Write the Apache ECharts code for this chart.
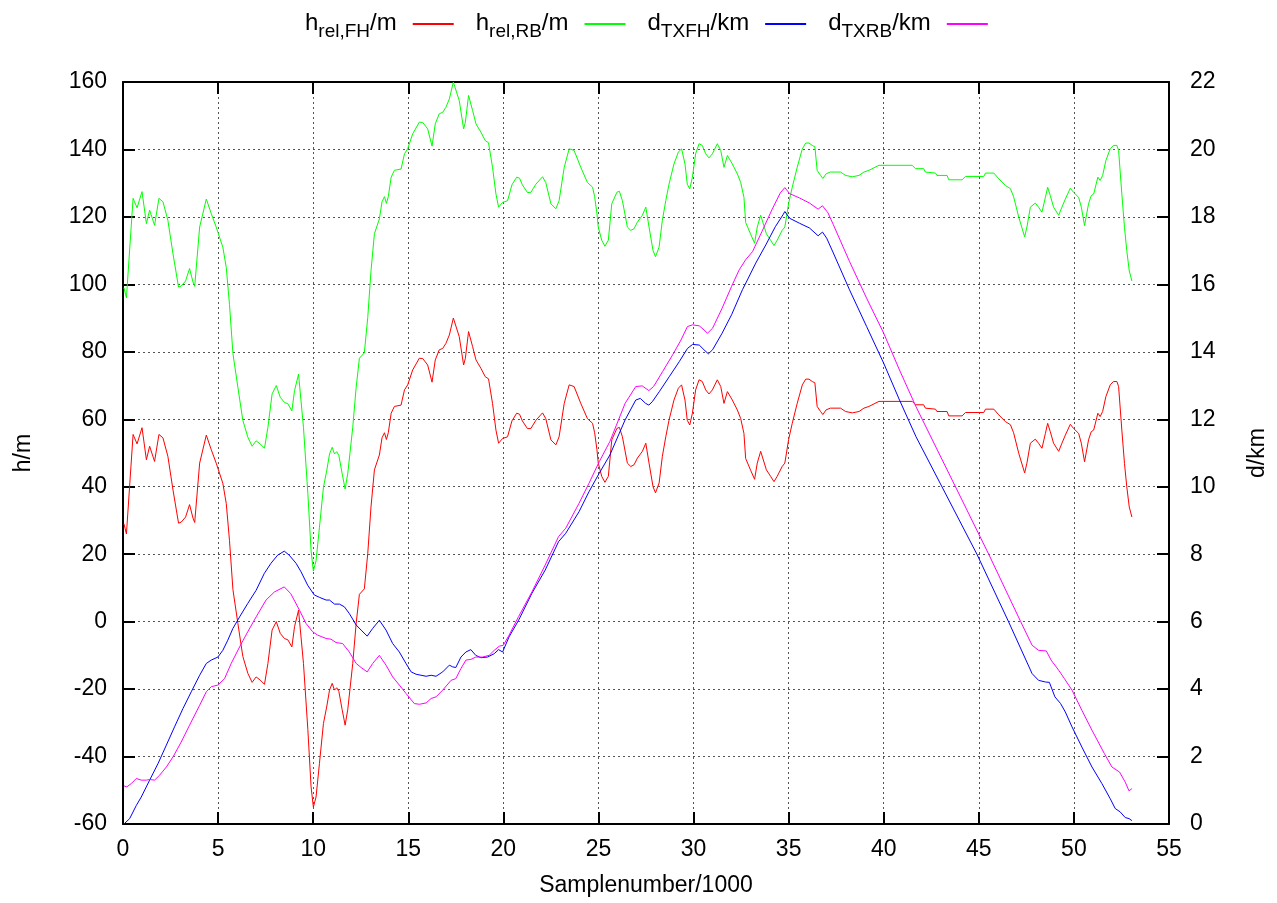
<!DOCTYPE html>
<html>
<head>
<meta charset="utf-8">
<script src="https://cdn.jsdelivr.net/npm/echarts@6/dist/echarts.min.js"></script>
<style>
  html, body { margin: 0; padding: 0; background: #fff; }
  #chart { width: 1277px; height: 903px; }
</style>
</head>
<body>
<div id="chart"></div>
<script>
// Sample positions (in thousands) shared by both relative-height curves
const hX = [
  0.05,0.18,0.53,0.62,0.74,0.84,1.0,1.1,1.23,1.4,
  1.49,1.66,1.89,2.1,2.36,2.63,2.92,3.06,3.29,3.5,
  3.68,3.77,4.03,4.38,4.64,4.9,5.25,5.43,5.6,5.78,
  6.04,6.3,6.57,6.79,7.0,7.21,7.44,7.62,7.84,8.06,
  8.27,8.49,8.67,8.88,9.02,9.23,9.31,9.49,9.72,9.89,
  10.01,10.15,10.33,10.54,10.71,10.86,11.0,11.12,11.24,11.35,
  11.52,11.68,11.82,12.08,12.26,12.43,12.69,12.87,13.04,13.22,
  13.48,13.62,13.75,13.85,13.95,14.1,14.27,14.62,14.8,14.97,
  15.23,15.58,15.76,16.02,16.11,16.25,16.42,16.63,16.81,16.98,
  17.16,17.37,17.47,17.68,17.91,18.0,18.17,18.38,18.56,18.82,
  19.05,19.22,19.43,19.61,19.75,19.96,20.22,20.45,20.7,20.85,
  21.0,21.27,21.45,21.71,22.06,22.23,22.5,22.76,22.93,23.2,
  23.46,23.72,24.07,24.42,24.69,24.8,24.92,24.99,25.17,25.34,
  25.52,25.7,25.97,26.1,26.26,26.52,26.7,26.87,27.05,27.31,
  27.49,27.66,27.87,28.0,28.19,28.36,28.54,28.71,28.97,29.2,
  29.37,29.55,29.67,29.8,29.94,30.11,30.29,30.46,30.64,30.81,
  30.99,31.25,31.43,31.6,31.78,32.04,32.3,32.48,32.65,32.74,
  33.0,33.21,33.35,33.53,33.61,33.83,34.05,34.23,34.4,34.66,
  34.8,35.0,35.19,35.45,35.72,35.9,36.07,36.24,36.38,36.5,
  36.68,36.8,36.97,37.2,37.73,37.99,38.35,38.7,38.96,39.22,
  39.75,41.5,41.67,42.1,42.19,42.72,42.8,43.33,43.42,44.12,
  44.3,45.26,45.35,45.79,46.05,46.4,46.66,46.83,47.1,47.41,
  47.53,47.71,47.97,48.14,48.32,48.5,48.62,48.76,48.93,49.2,
  49.37,49.55,49.81,49.98,50.25,50.39,50.56,50.77,50.91,51.04,
  51.26,51.38,51.51,51.68,51.91,52.08,52.26,52.35,52.52,52.66,
  52.78,52.91,53.05
];

// h_rel,FH in metres
const hFH = [
  29,26,55.5,56,52.7,53,57.5,58,48,52,
  52,47.5,55.5,54.5,49,39,29.2,29.5,31,34.7,
  30.7,29.4,47,55.3,51,47,41,35,24,9.5,
  -0.5,-10.3,-15.4,-18,-16.4,-17.3,-18.6,-12.4,-2.5,0,
  -3.5,-5,-5.4,-7.5,-1.5,3.4,3,-12.4,-32,-49,
  -55,-52,-42,-30.2,-25.3,-20.3,-18.3,-20.3,-19.6,-20.7,
  -26,-30.7,-26,-12.4,-0.5,8.1,9.7,20.2,34,45,
  49.4,54.5,56,54,56,61.8,63.8,64.2,68.7,70.2,
  74.6,78.1,78,76.1,75.6,71,77.6,80.6,81,82.5,
  85,90,90,84.5,76.1,78,86,81.6,77.6,75.1,
  72.6,72,64.7,56.8,52.9,54.3,54.8,59.5,61.8,61.5,
  59.5,57.2,57.3,59.7,61.9,60.2,53.9,52.4,54.8,64.7,
  70.2,69.7,64.7,60.2,58.8,56,51,47,43.1,41.3,
  43.1,53.9,57.3,57.6,54.8,47,46,46.5,48.5,50.5,
  52.9,47,40,38.2,41.1,49,54.8,59.7,65.7,69.2,
  70.2,65.7,59.7,58.3,61.8,68.7,71.7,71.2,68.7,67.5,
  68.7,71.7,69.7,64.7,68.2,65.7,62.8,60.2,55.8,48.4,
  44.9,42.2,47,50.5,50,45,43.1,41.5,43.1,46,
  47,54,58.8,64.7,70.2,71.9,71.9,71.2,70.8,63.8,
  62.3,61.4,62.8,63.3,63.3,62.3,61.9,62.3,63.3,63.8,
  65.3,65.3,64.3,64.3,63.3,63,62.3,62.3,61,61,
  62,62,63,63,61.3,59.3,58.4,56,49.9,44.1,
  47,52.9,54.1,52.9,51.4,55.8,58.8,56.3,52.9,50.5,
  52.9,55.3,58.5,57.3,55.8,52.9,47.4,53.9,56.3,56.8,
  61.8,60.8,62.3,66.7,70.2,71.2,71.2,69.7,56.8,46.9,
  40,34,31
];

// h_rel,RB in metres
const hRB = [
  99,96,125.5,126,122.7,123,127.5,128,118,122,
  122,117.5,125.5,124.5,119,109,99.2,99.5,101,104.7,
  100.7,99.4,117,125.3,121,117,111,105,94,79.5,
  69.5,59.7,54.6,52,53.6,52.7,51.4,57.6,67.5,70,
  66.5,65,64.6,62.5,68.5,73.4,73,57.6,38,21,
  15,18,28,39.8,44.7,49.7,51.7,49.7,50.4,49.3,
  44,39.3,44,57.6,69.5,78.1,79.7,90.2,104,115,
  119.4,124.5,126,124,126,131.8,133.8,134.2,138.7,140.2,
  144.6,148.1,148,146.1,145.6,141,147.6,150.6,151,152.5,
  155,160,160,154.5,146.1,148,156,151.6,147.6,145.1,
  142.6,142,134.7,126.8,122.9,124.3,124.8,129.5,131.8,131.5,
  129.5,127.2,127.3,129.7,131.9,130.2,123.9,122.4,124.8,134.7,
  140.2,139.7,134.7,130.2,128.8,126,121,117,113.1,111.3,
  113.1,123.9,127.3,127.6,124.8,117,116,116.5,118.5,120.5,
  122.9,117,110,108.2,111.1,119,124.8,129.7,135.7,139.2,
  140.2,135.7,129.7,128.3,131.8,138.7,141.7,141.2,138.7,137.5,
  138.7,141.7,139.7,134.7,138.2,135.7,132.8,130.2,125.8,118.4,
  114.9,112.2,117,120.5,120,115,113.1,111.5,113.1,116,
  117,124,128.8,134.7,140.2,141.9,141.9,141.2,140.8,133.8,
  132.3,131.4,132.8,133.3,133.3,132.3,131.9,132.3,133.3,133.8,
  135.3,135.3,134.3,134.3,133.3,133,132.3,132.3,131,131,
  132,132,133,133,131.3,129.3,128.4,126,119.9,114.1,
  117,122.9,124.1,122.9,121.4,125.8,128.8,126.3,122.9,120.5,
  122.9,125.3,128.5,127.3,125.8,122.9,117.4,123.9,126.3,126.8,
  131.8,130.8,132.3,136.7,140.2,141.2,141.2,139.7,126.8,116.9,
  110,104,101
];

// d_TXFH in km
const dFHX = [
  0.05,0.35,0.7,0.96,1.4,1.84,2.28,2.71,3.15,3.59,
  4.03,4.38,4.64,4.99,5.25,5.51,5.78,6.13,6.56,7.0,
  7.43,7.78,8.13,8.48,8.74,9.1,9.36,9.71,10.06,10.33,
  10.68,10.86,11.12,11.38,11.64,11.9,12.26,12.52,12.84,13.13,
  13.48,13.83,14.18,14.53,14.88,15.15,15.41,15.94,16.2,16.46,
  16.81,17.16,17.33,17.5,17.77,18.03,18.29,18.55,18.82,19.17,
  19.52,19.75,19.96,20.3,20.8,21.5,22.2,22.9,23.28,23.98,
  24.5,25.04,25.6,26.4,26.96,27.2,27.48,27.65,27.83,28.2,
  28.72,29.25,29.68,29.95,30.3,30.55,30.78,31.0,31.5,32.0,
  32.57,32.83,33.27,33.8,34.3,34.7,34.8,35.05,35.58,36.1,
  36.55,36.78,37.0,37.35,38.2,39.1,40.0,40.83,41.7,44.9,
  46.57,47.8,48.14,48.5,48.71,49.0,49.3,49.55,49.9,50.42,
  50.95,51.47,51.91,52.17,52.43,52.7,52.9,53.05
];
const dFH = [
  0,0.16,0.55,0.8,1.3,1.79,2.34,2.88,3.42,3.92,
  4.41,4.76,4.86,4.95,5.15,5.45,5.8,6.14,6.54,6.93,
  7.43,7.73,7.97,8.09,7.97,7.73,7.48,7.08,6.79,6.72,
  6.64,6.64,6.52,6.52,6.44,6.24,5.9,5.75,5.57,5.8,
  6.04,5.75,5.35,5.1,4.76,4.51,4.44,4.38,4.41,4.38,
  4.51,4.71,4.66,4.64,4.95,5.1,5.17,5.0,4.93,4.95,
  5.05,5.17,5.1,5.55,6.04,6.84,7.53,8.37,8.62,9.26,
  9.85,10.4,10.94,11.98,12.57,12.62,12.47,12.42,12.52,12.82,
  13.26,13.71,14.1,14.22,14.2,14.06,13.94,14.06,14.55,15.1,
  15.84,16.13,16.63,17.17,17.71,18.06,18.16,17.96,17.81,17.67,
  17.44,17.55,17.37,16.93,15.84,14.75,13.66,12.57,11.48,8.0,
  5.99,4.46,4.26,4.21,4.2,3.77,3.57,3.32,2.88,2.28,
  1.69,1.2,0.75,0.46,0.36,0.19,0.16,0.1
];

// d_TXRB in km
const dRBX = [
  0.05,0.2,0.44,0.7,0.96,1.23,1.4,1.66,1.93,2.28,
  2.63,3.06,3.5,4.03,4.38,4.64,4.99,5.34,5.69,6.13,
  6.56,7.0,7.52,7.96,8.48,8.82,9.28,9.62,9.97,10.24,
  10.68,10.94,11.2,11.55,11.9,12.26,12.52,12.84,13.13,13.48,
  13.83,14.18,14.53,14.88,15.32,15.59,15.94,16.2,16.46,16.81,
  17.25,17.5,17.77,18.03,18.29,18.55,18.9,19.25,19.52,19.78,
  20.0,20.3,20.8,21.5,22.2,22.9,23.28,23.98,24.5,25.04,
  25.6,26.4,26.96,27.3,27.65,27.9,28.37,28.9,29.34,29.68,
  29.95,30.3,30.55,30.73,31.0,31.5,32.0,32.4,32.74,33.1,
  33.6,34.12,34.56,34.8,35.05,35.58,36.1,36.55,36.78,37.07,
  37.35,38.2,39.1,40.0,40.83,41.7,45.52,47.2,47.8,48.14,
  48.55,48.8,49.2,49.5,49.9,50.42,50.95,51.6,52.0,52.4,
  52.7,52.9,53.05
];
const dRB = [
  1.13,1.1,1.2,1.35,1.3,1.3,1.32,1.3,1.45,1.69,
  1.99,2.43,2.93,3.52,3.92,4.07,4.12,4.31,4.76,5.25,
  5.7,6.14,6.64,6.88,7.03,6.83,6.34,5.95,5.7,5.6,
  5.5,5.48,5.38,5.35,5.1,4.76,4.64,4.51,4.76,5.0,
  4.71,4.36,4.12,3.87,3.57,3.55,3.59,3.72,3.77,3.97,
  4.26,4.31,4.61,4.86,4.88,4.95,4.95,5.0,5.15,5.27,
  5.3,5.6,6.15,6.88,7.68,8.52,8.77,9.51,10.1,10.74,
  11.34,12.47,12.97,12.99,12.85,12.97,13.41,13.91,14.35,14.75,
  14.8,14.77,14.65,14.55,14.7,15.29,15.94,16.43,16.73,16.97,
  17.57,18.21,18.71,18.87,18.69,18.56,18.41,18.23,18.33,18.12,
  17.77,16.68,15.59,14.55,13.46,12.37,8.0,6.0,5.3,5.15,
  5.13,4.86,4.56,4.31,3.97,3.37,2.78,2.09,1.69,1.54,
  1.24,0.98,1.05
];

// Legend entries: [series name, main part, subscript, unit]
const legendParts = [
  ['h_rel,FH/m', 'h', 'rel,FH', '/m'],
  ['h_rel,RB/m', 'h', 'rel,RB', '/m'],
  ['d_TXFH/km', 'd', 'TXFH', '/km'],
  ['d_TXRB/km', 'd', 'TXRB', '/km']
];
const colors = ['#ff0000', '#00ff00', '#0000ff', '#ff00ff'];

const FONT = '"Liberation Sans", Arial, Helvetica, sans-serif';

function zip(xs, ys) {
  const n = Math.min(xs.length, ys.length);
  const out = [];
  for (let i = 0; i < n; i++) out.push([xs[i], ys[i]]);
  return out;
}

const chart = echarts.init(document.getElementById('chart'), null, { renderer: 'canvas' });

const gridLine = { show: true, lineStyle: { color: '#555', width: 1, type: [2, 3] } };
const frame = { show: true, onZero: false, lineStyle: { color: '#000', width: 2 } };
const tick = { show: true, inside: true, length: 12, lineStyle: { color: '#000', width: 2 } };
const tickText = { color: '#000', fontSize: 23, fontFamily: FONT };

function lineSeries(name, data, color, yIdx) {
  return {
    name: name,
    type: 'line',
    data: data,
    xAxisIndex: 0,
    yAxisIndex: yIdx,
    showSymbol: false,
    symbol: 'none',
    smooth: false,
    lineStyle: { color: color, width: 1 },
    itemStyle: { color: color },
    emphasis: { disabled: true },
    clip: true
  };
}

const option = {
  animation: false,
  backgroundColor: '#fff',
  color: colors,
  legend: {
    top: 6,
    left: 300,
    itemGap: 22,
    itemWidth: 41,
    itemHeight: 2,
    icon: 'rect',
    align: 'right',
    data: legendParts.map(p => p[0]),
    formatter: function (name) {
      const p = legendParts.find(q => q[0] === name);
      return '{m|' + p[1] + '}{s|' + p[2] + '}{m|' + p[3] + '}{g|}';
    },
    textStyle: {
      color: '#000',
      fontFamily: FONT,
      rich: {
        m: { fontSize: 24, lineHeight: 26, verticalAlign: 'top', fontFamily: FONT, color: '#000' },
        s: { fontSize: 19, lineHeight: 19, verticalAlign: 'top', padding: [11, 0, 0, 0], fontFamily: FONT, color: '#000' },
        g: { width: 11 }
      }
    }
  },
  grid: { left: 123, right: 108, top: 82, bottom: 79, containLabel: false },
  xAxis: [
    {
      type: 'value',
      position: 'bottom',
      min: 0, max: 55, interval: 5,
      name: 'Samplenumber/1000',
      nameLocation: 'middle',
      nameGap: 50,
      nameTextStyle: { color: '#000', fontSize: 23, fontFamily: FONT },
      axisLine: frame,
      axisTick: tick,
      axisLabel: Object.assign({ margin: 14 }, tickText),
      splitLine: gridLine
    },
    {
      type: 'value',
      position: 'top',
      min: 0, max: 55, interval: 5,
      axisLine: frame,
      axisTick: tick,
      axisLabel: { show: false },
      splitLine: { show: false }
    }
  ],
  yAxis: [
    {
      type: 'value',
      position: 'left',
      min: -60, max: 160, interval: 20,
      name: 'h/m',
      nameLocation: 'middle',
      nameRotate: 90,
      nameGap: 88,
      nameTextStyle: { color: '#000', fontSize: 23, fontFamily: FONT },
      axisLine: frame,
      axisTick: tick,
      axisLabel: Object.assign({ margin: 16 }, tickText),
      splitLine: gridLine
    },
    {
      type: 'value',
      position: 'right',
      min: 0, max: 22, interval: 2,
      name: 'd/km',
      nameLocation: 'middle',
      nameRotate: 90,
      nameGap: 77,
      nameTextStyle: { color: '#000', fontSize: 23, fontFamily: FONT },
      axisLine: frame,
      axisTick: tick,
      axisLabel: Object.assign({ margin: 21 }, tickText),
      splitLine: { show: false }
    }
  ],
  series: [
    lineSeries(legendParts[0][0], zip(hX, hFH), colors[0], 0),
    lineSeries(legendParts[1][0], zip(hX, hRB), colors[1], 0),
    lineSeries(legendParts[2][0], zip(dFHX, dFH), colors[2], 1),
    lineSeries(legendParts[3][0], zip(dRBX, dRB), colors[3], 1)
  ]
};

chart.setOption(option);
</script>
</body>
</html>
